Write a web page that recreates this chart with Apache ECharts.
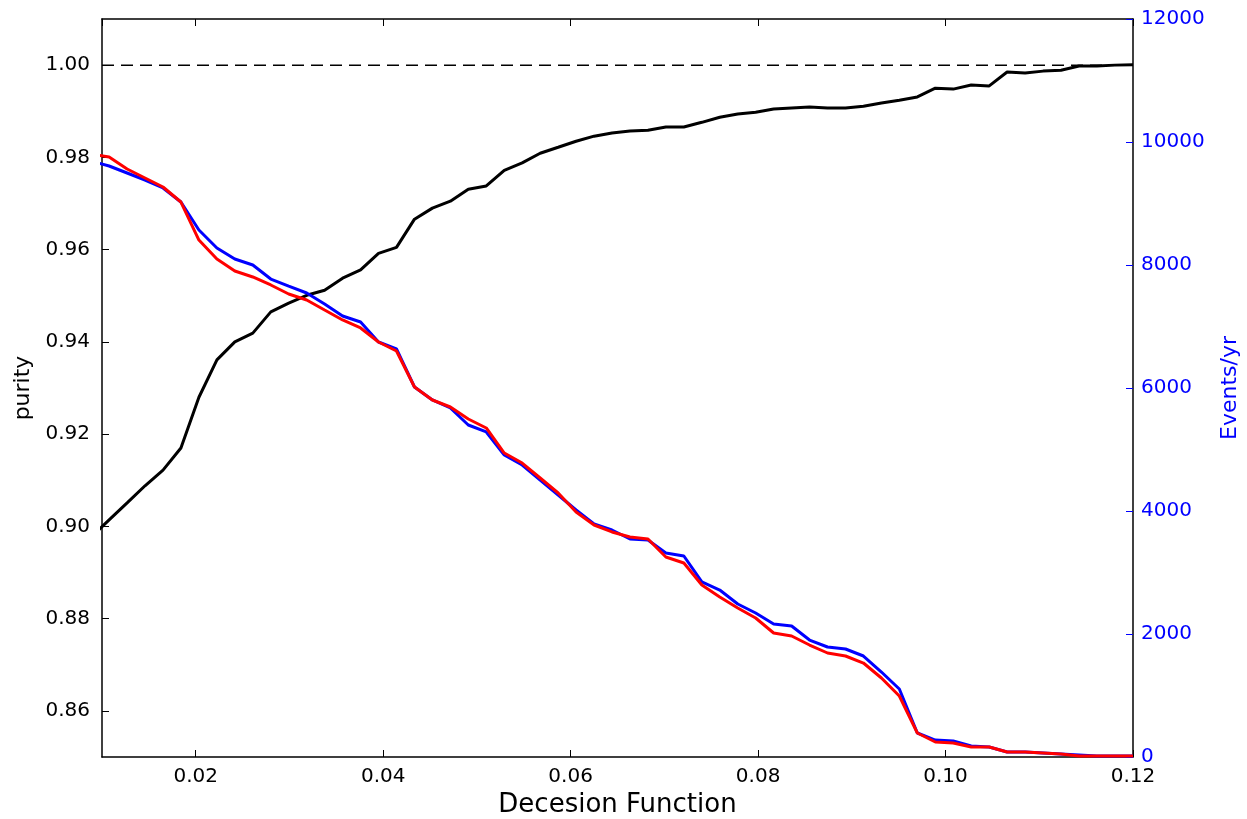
<!DOCTYPE html>
<html>
<head>
<meta charset="utf-8">
<script src="https://cdn.jsdelivr.net/npm/echarts@6/dist/echarts.min.js"></script>
<style>
html,body{margin:0;padding:0;background:#fff;}
#chart{width:1247px;height:819px;}
</style>
</head>
<body>
<div id="chart"></div>
<script>
// Decision function values (x)
const xValues = [0.00884,0.01076,0.01268,0.01459,0.01651,0.01842,0.02034,0.02226,0.02417,0.02609,
  0.02801,0.02992,0.03184,0.03375,0.03567,0.03759,0.03950,0.04142,0.04334,0.04525,
  0.04717,0.04908,0.05100,0.05292,0.05483,0.05675,0.05867,0.06058,0.06250,0.06441,
  0.06633,0.06825,0.07016,0.07208,0.07400,0.07591,0.07783,0.07974,0.08166,0.08358,
  0.08549,0.08741,0.08933,0.09124,0.09316,0.09507,0.09699,0.09891,0.10082,0.10274,
  0.10466,0.10657,0.10849,0.11040,0.11232,0.11424,0.11615,0.11807,0.12000];
// Purity (left axis, black)
const purity = [0.8977,0.9014,0.9051,0.9088,0.9122,0.9170,0.9280,0.9361,0.9400,0.9419,
  0.9465,0.9484,0.9501,0.9512,0.9538,0.9556,0.9592,0.9605,0.9666,0.9690,
  0.9705,0.9731,0.9738,0.9772,0.9788,0.9809,0.9822,0.9835,0.9846,0.9853,
  0.9857,0.9859,0.9866,0.9866,0.9876,0.9887,0.9894,0.9898,0.9905,0.9907,
  0.9909,0.9907,0.9907,0.9911,0.9918,0.9924,0.9931,0.9950,0.9948,0.9957,
  0.9955,0.9985,0.9983,0.9987,0.9989,0.9998,0.9998,1.0000,1.0001];
// Events/yr (right axis, red)
const eventsRed = [9805,9756,9561,9415,9268,9024,8406,8097,7902,7805,
  7675,7528,7431,7268,7106,6976,6748,6602,6016,5805,
  5691,5496,5350,4943,4780,4537,4293,3984,3772,3659,
  3577,3545,3252,3154,2797,2602,2423,2260,2016,1967,
  1821,1691,1642,1528,1285,992,390,244,228,163,
  163,81,81,65,49,16,16,16,16];
// Events/yr (right axis, blue)
const eventsBlue = [9691,9610,9496,9382,9252,9024,8569,8276,8097,8000,
  7772,7658,7545,7366,7171,7073,6748,6634,6016,5805,
  5675,5398,5285,4911,4748,4504,4260,4016,3789,3691,
  3545,3528,3317,3268,2846,2715,2488,2341,2163,2130,
  1902,1789,1756,1642,1382,1106,390,276,260,179,
  163,81,81,65,49,33,16,16,16];
// Reference line
const refX = [0.01, 0.12];
const refY = [1.0, 1.0];

const pair = (xs, ys) => xs.map((x, i) => [x, ys[i]]);
const FONT = 'DejaVu Sans';
const BLUE = '#0000ff';

const chart = echarts.init(document.getElementById('chart'), null, {renderer: 'canvas'});
chart.setOption({
  animation: false,
  backgroundColor: '#ffffff',
  grid: {left: 102, right: 114, top: 19, bottom: 62, containLabel: false, outerBoundsMode: 'none'},
  xAxis: [{
    type: 'value', min: 0.01, max: 0.12, splitNumber: 5, position: 'bottom',
    name: 'Decesion Function', nameLocation: 'middle', nameGap: 34,
    nameTextStyle: {color: '#000', fontFamily: FONT, fontSize: 26},
    axisLine: {show: true, onZero: false, lineStyle: {color: '#000', width: 1.5}},
    axisTick: {show: true, inside: true, length: 7, lineStyle: {color: '#000', width: 1}},
    axisLabel: {show: true, showMinLabel: false, margin: 10, color: '#000', fontFamily: FONT, fontSize: 20,
      formatter: v => v.toFixed(2)},
    splitLine: {show: false}
  }, {
    type: 'value', min: 0.01, max: 0.12, splitNumber: 5, position: 'top',
    axisLine: {show: true, onZero: false, lineStyle: {color: '#000', width: 1.5}},
    axisTick: {show: true, inside: true, length: 7, lineStyle: {color: '#000', width: 1}},
    axisLabel: {show: false},
    splitLine: {show: false}
  }],
  yAxis: [{
    type: 'value', min: 0.85, max: 1.01, splitNumber: 8, position: 'left',
    name: 'purity', nameLocation: 'middle', nameGap: 62,
    nameTextStyle: {color: '#000', fontFamily: FONT, fontSize: 22},
    axisLine: {show: true, onZero: false, lineStyle: {color: '#000', width: 1.5}},
    axisTick: {show: true, inside: true, length: 7, lineStyle: {color: '#000', width: 1}},
    axisLabel: {show: true, showMinLabel: false, showMaxLabel: false, margin: 12, color: '#000',
      fontFamily: FONT, fontSize: 20, formatter: v => v.toFixed(2)},
    splitLine: {show: false}
  }, {
    type: 'value', min: 0, max: 12000, interval: 2000, position: 'right',
    name: 'Events/yr', nameLocation: 'middle', nameGap: 86,
    nameTextStyle: {color: BLUE, fontFamily: FONT, fontSize: 22},
    axisLine: {show: true, onZero: false, lineStyle: {color: '#000', width: 1.5}},
    axisTick: {show: true, inside: true, length: 7, lineStyle: {color: BLUE, width: 1}},
    axisLabel: {show: true, margin: 8, color: BLUE, fontFamily: FONT, fontSize: 20,
      formatter: v => String(Math.round(v))},
    splitLine: {show: false}
  }],
  series: [{
    type: 'line', name: 'ref', xAxisIndex: 0, yAxisIndex: 0, data: pair(refX, refY),
    symbol: 'none', silent: true, z: 1,
    lineStyle: {color: '#000', width: 1.5, type: [12, 7]}
  }, {
    type: 'line', name: 'purity', xAxisIndex: 0, yAxisIndex: 0, data: pair(xValues, purity),
    symbol: 'none', clip: true, z: 2,
    lineStyle: {color: '#000', width: 3}
  }, {
    type: 'line', name: 'blue', xAxisIndex: 0, yAxisIndex: 1, data: pair(xValues, eventsBlue),
    symbol: 'none', clip: true, z: 3,
    lineStyle: {color: BLUE, width: 3}
  }, {
    type: 'line', name: 'red', xAxisIndex: 0, yAxisIndex: 1, data: pair(xValues, eventsRed),
    symbol: 'none', clip: true, z: 4,
    lineStyle: {color: '#ff0000', width: 3}
  }]
});
</script>
</body>
</html>
